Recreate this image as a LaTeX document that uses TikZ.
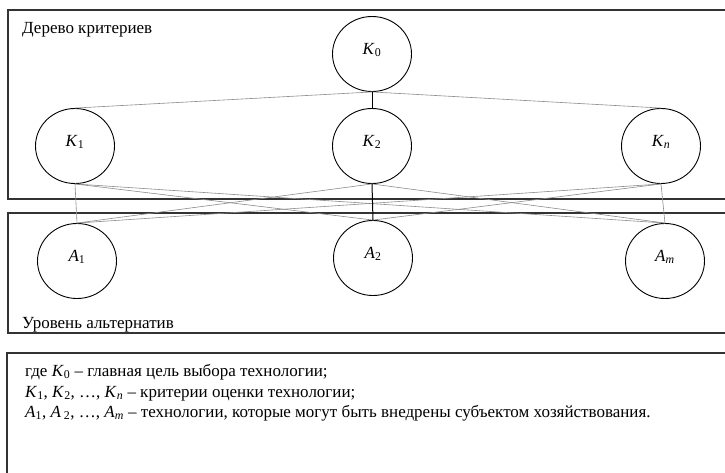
\documentclass[tikz,border=0pt]{standalone}
\usepackage{fontspec}
\setmainfont{Liberation Serif}
\usetikzlibrary{shapes.geometric}
\begin{document}
\begin{tikzpicture}[x=1pt,y=-1pt,
  frame/.style={draw=black!80,line width=1.8pt},
  crit/.style={ellipse,draw,line width=0.9pt,minimum width=79pt,minimum height=75pt,inner sep=0pt,
    text height=0pt,text depth=0pt,font=\fontsize{17}{20}\selectfont},
  thin/.style={draw=black!45,line width=0.6pt},
  thick/.style={draw=black,line width=1pt},
  lbl/.style={anchor=base west,inner sep=0pt,font=\fontsize{17}{20}\selectfont}]
\useasboundingbox (0,0) rectangle (725,472);
\clip (0,0) rectangle (725,472);
\fill[white] (0,0) rectangle (725,472);
\draw[frame] (8,10) rectangle (740,199);
\draw[frame] (8,213) rectangle (740,333);
\draw[draw=black!80,line width=1.5pt] (7,490) -- (7,353) -- (740,353);
\node[lbl] (t1) at (22,33) {Дерево критериев};
\node[lbl] (t2) at (22,328) {Уровень альтернатив};
\node[crit] (K0) at (372,54) {\textit{K}\textsubscript{0}};
\node[crit] (K1) at (75,146) {\textit{K}\textsubscript{1}};
\node[crit] (K2) at (372,146) {\textit{K}\textsubscript{2}};
\node[crit] (Kn) at (661,146) {\textit{K}\textsubscript{\textit{n}}};
\node[crit] (A1) at (77,261) {\textit{A}\textsubscript{1}};
\node[crit] (A2) at (373,258) {\textit{A}\textsubscript{2}};
\node[crit] (Am) at (665,261) {\textit{A}\textsubscript{\textit{m}}};
\draw[thin] (K0.south) -- (K1.north);
\draw[thin] (K0.south) -- (Kn.north);
\draw[thick] (K0.south) -- (K2.north);
\foreach \k in {K1,K2,Kn}{
  \foreach \a in {A1,Am}{
    \draw[thin] (\k.south) -- (\a.north);
  }
}
\draw[thin] (K1.south) -- (A2.north);
\draw[thin] (Kn.south) -- (A2.north);
\draw[thick] (K2.south) -- (A2.north);
\node[lbl] (l1) at (25,376) {где \textit{K}\textsubscript{0} – главная цель выбора технологии;};
\node[lbl] (l2) at (25,397) {\textit{K}\textsubscript{1}, \textit{K}\textsubscript{2}, …, \textit{K}\textsubscript{\textit{n}} – критерии оценки технологии;};
\node[lbl] (l3) at (25,417) {\textit{A}\textsubscript{1}, \textit{A}\,\textsubscript{2}, …, \textit{A}\textsubscript{\textit{m}} – технологии, которые могут быть внедрены субъектом хозяйствования.};
\end{tikzpicture}
\end{document}
